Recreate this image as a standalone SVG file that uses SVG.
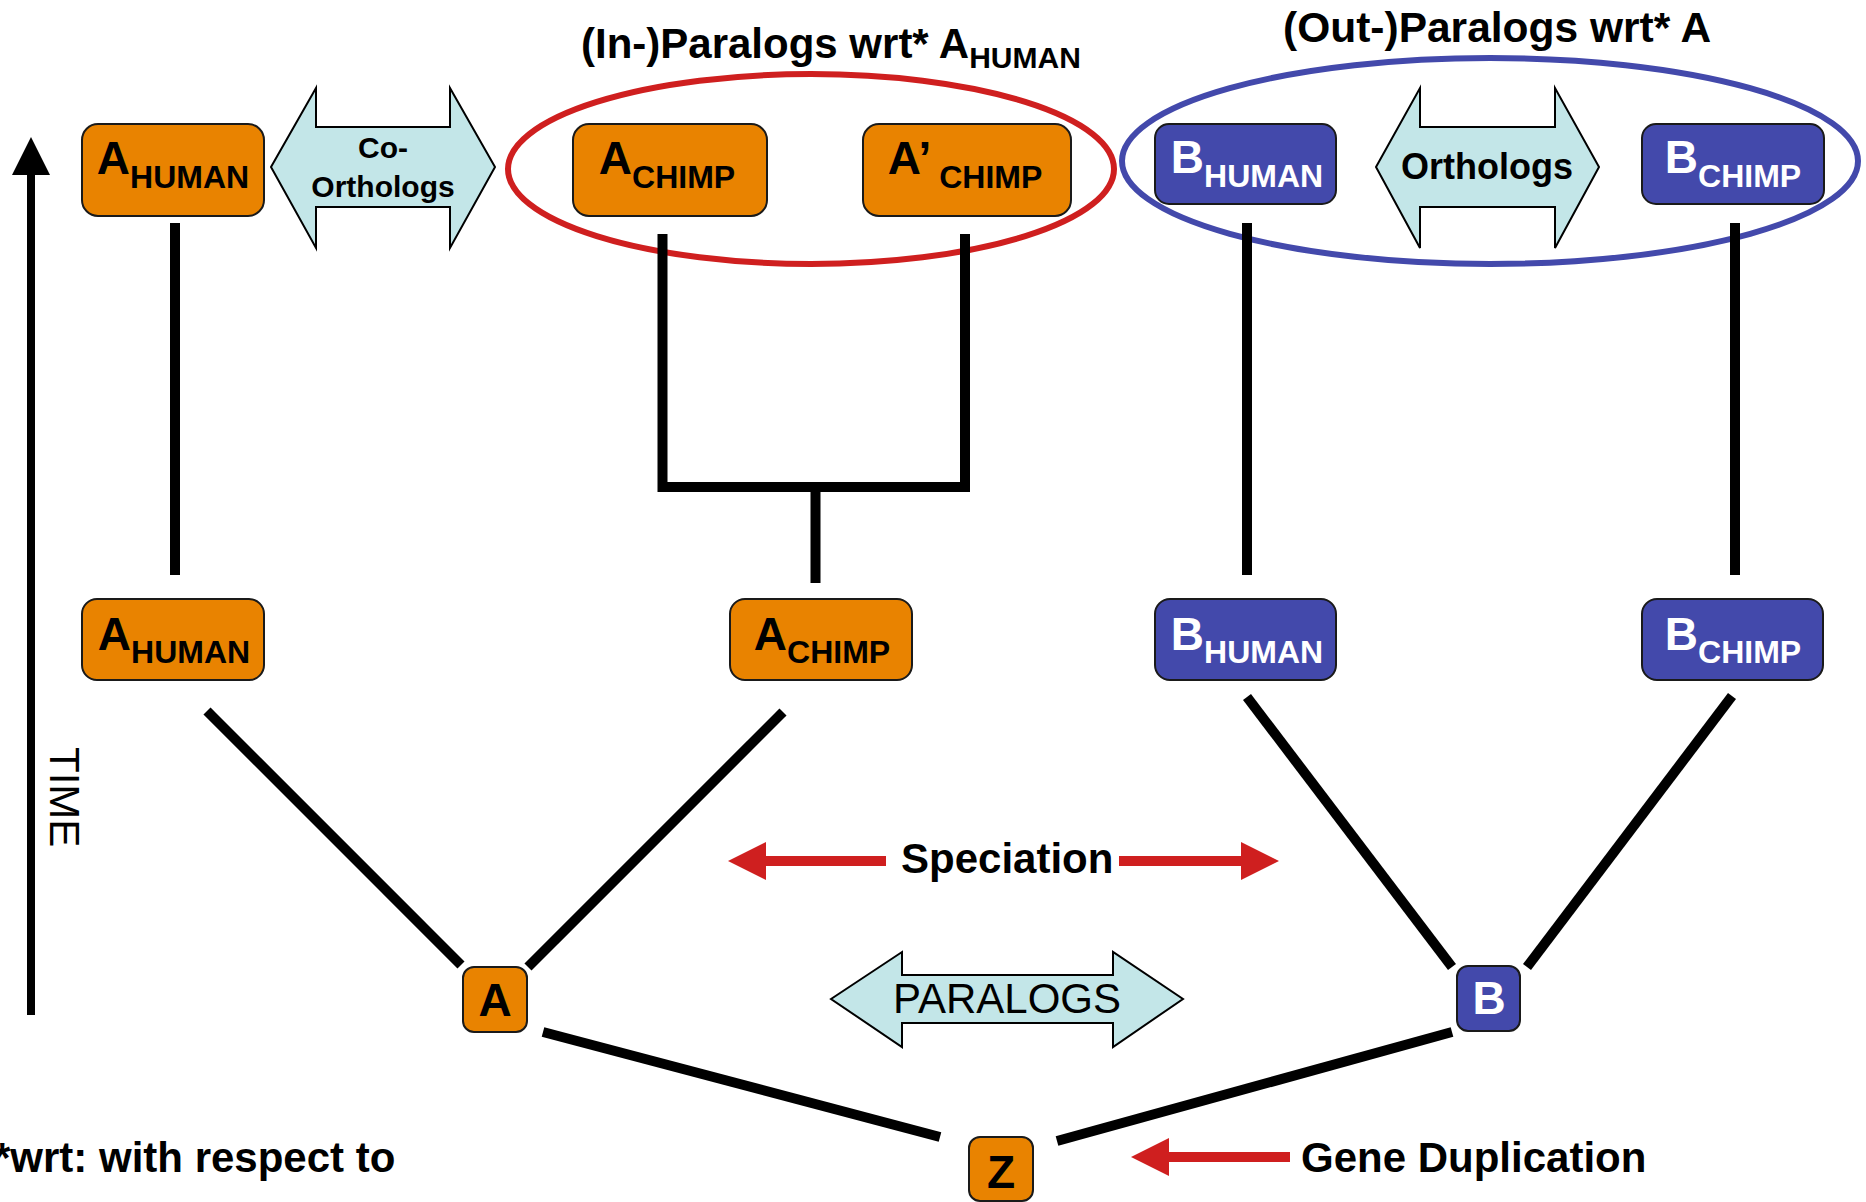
<svg xmlns="http://www.w3.org/2000/svg" width="1866" height="1202" viewBox="0 0 1866 1202">
  <style>
    .lbl { font-family: "Liberation Sans", Arial, sans-serif; font-weight: bold; }
    .orange rect { fill: #E98300; stroke: #1a1a1a; stroke-width: 2; }
    .blue rect { fill: #4349AB; stroke: #1a1a1a; stroke-width: 2; }
    .orange text { fill: #000; }
    .blue text { fill: #fff; }
    .big { font-size: 46px; }
    .sub { font-size: 32px; }
    .edge { stroke: #000; stroke-width: 10; fill: none; stroke-linecap: butt; }
    .dbl { fill: #C3E6E8; stroke: #000; stroke-width: 2; }
    .red { fill: #CF1F1F; }
  </style>

  <!-- time axis -->
  <g id="time-axis">
    <line x1="31" y1="170" x2="31" y2="1015" stroke="#000" stroke-width="8"/>
    <polygon points="31,137 12,175 50,175" fill="#000"/>
    <text transform="translate(50,747) rotate(90)" font-family="Liberation Sans, Arial, sans-serif" font-size="42">TIME</text>
  </g>

  <!-- group outlines -->
  <g id="in-paralogs">
    <ellipse cx="811" cy="169" rx="303" ry="95" fill="none" stroke="#CF1F1F" stroke-width="6"/>
    <text class="lbl" x="581" y="58" font-size="42">(In-)Paralogs wrt* A<tspan font-size="30" dy="10">HUMAN</tspan></text>
  </g>
  <g id="out-paralogs">
    <ellipse cx="1490" cy="161" rx="368" ry="103" fill="none" stroke="#4349AB" stroke-width="6"/>
    <text class="lbl" x="1283" y="42" font-size="42.5">(Out-)Paralogs wrt* A</text>
  </g>

  <!-- connectors -->
  <g id="connectors">
    <line class="edge" x1="175" y1="223" x2="175" y2="575"/>
    <path class="edge" d="M662.5,234 V487 H965 V234" stroke-linejoin="miter"/>
    <line class="edge" x1="815.5" y1="487" x2="815.5" y2="583"/>
    <line class="edge" x1="1247" y1="223" x2="1247" y2="575"/>
    <line class="edge" x1="1735" y1="223" x2="1735" y2="575"/>
    <line class="edge" x1="207" y1="711" x2="461" y2="965"/>
    <line class="edge" x1="783" y1="712" x2="528" y2="967"/>
    <line class="edge" x1="1247" y1="697" x2="1452" y2="967"/>
    <line class="edge" x1="1732" y1="696" x2="1527" y2="967"/>
    <line class="edge" x1="543" y1="1032" x2="940" y2="1137"/>
    <line class="edge" x1="1057" y1="1141" x2="1452" y2="1032"/>
  </g>

  <!-- relation arrows -->
  <g id="co-orthologs">
    <polygon class="dbl" points="271,167 316,88 316,127 450,127 450,88 495,167 450,248 450,207 316,207 316,248"/>
    <text class="lbl" x="383" y="158" font-size="30" text-anchor="middle">Co-</text>
    <text class="lbl" x="383" y="197" font-size="30" text-anchor="middle">Orthologs</text>
  </g>
  <g id="orthologs">
    <polygon class="dbl" points="1376,167 1420,88 1420,127 1555,127 1555,88 1599,167 1555,248 1555,207 1420,207 1420,248"/>
    <text class="lbl" x="1487" y="179" font-size="36" text-anchor="middle">Orthologs</text>
  </g>
  <g id="paralogs">
    <polygon class="dbl" points="831,999 902,952 902,975 1113,975 1113,952 1183,999 1113,1047 1113,1023 902,1023 902,1047"/>
    <text x="1007" y="1013" font-family="Liberation Sans, Arial, sans-serif" font-size="42" text-anchor="middle">PARALOGS</text>
  </g>
  <g id="speciation">
    <rect class="red" x="760" y="856" width="126" height="10"/>
    <polygon class="red" points="728,861 766,842 766,880"/>
    <text class="lbl" x="901" y="873" font-size="42">Speciation</text>
    <rect class="red" x="1119" y="856" width="126" height="10"/>
    <polygon class="red" points="1279,861 1241,842 1241,880"/>
  </g>
  <g id="gene-duplication">
    <rect class="red" x="1165" y="1152" width="125" height="10"/>
    <polygon class="red" points="1131,1157 1169,1138 1169,1176"/>
    <text class="lbl" x="1301" y="1172" font-size="42">Gene Duplication</text>
  </g>
  <g id="footnote">
    <text class="lbl" x="-6" y="1172" font-size="42">*wrt: with respect to</text>
  </g>

  <!-- gene nodes: present day -->
  <g id="a-human-top" class="orange">
    <rect x="82" y="124" width="182" height="92" rx="16"/>
    <text class="lbl" x="173" y="174" text-anchor="middle"><tspan class="big">A</tspan><tspan class="sub" dy="14">HUMAN</tspan></text>
  </g>
  <g id="a-chimp-top" class="orange">
    <rect x="573" y="124" width="194" height="92" rx="16"/>
    <text class="lbl" x="667" y="174" text-anchor="middle"><tspan class="big">A</tspan><tspan class="sub" dy="14">CHIMP</tspan></text>
  </g>
  <g id="a-prime-chimp-top" class="orange">
    <rect x="863" y="124" width="208" height="92" rx="16"/>
    <text class="lbl" x="965" y="174" text-anchor="middle"><tspan class="big">A’</tspan><tspan class="sub" dy="14" dx="8">CHIMP</tspan></text>
  </g>
  <g id="b-human-top" class="blue">
    <rect x="1155" y="124" width="181" height="80" rx="14"/>
    <text class="lbl" x="1247" y="173" text-anchor="middle"><tspan class="big">B</tspan><tspan class="sub" dy="14">HUMAN</tspan></text>
  </g>
  <g id="b-chimp-top" class="blue">
    <rect x="1642" y="124" width="182" height="80" rx="14"/>
    <text class="lbl" x="1733" y="173" text-anchor="middle"><tspan class="big">B</tspan><tspan class="sub" dy="14">CHIMP</tspan></text>
  </g>

  <!-- gene nodes: after speciation -->
  <g id="a-human-mid" class="orange">
    <rect x="82" y="599" width="182" height="81" rx="15"/>
    <text class="lbl" x="174" y="650" text-anchor="middle"><tspan class="big">A</tspan><tspan class="sub" dy="13">HUMAN</tspan></text>
  </g>
  <g id="a-chimp-mid" class="orange">
    <rect x="730" y="599" width="182" height="81" rx="15"/>
    <text class="lbl" x="822" y="650" text-anchor="middle"><tspan class="big">A</tspan><tspan class="sub" dy="13">CHIMP</tspan></text>
  </g>
  <g id="b-human-mid" class="blue">
    <rect x="1155" y="599" width="181" height="81" rx="15"/>
    <text class="lbl" x="1247" y="650" text-anchor="middle"><tspan class="big">B</tspan><tspan class="sub" dy="13">HUMAN</tspan></text>
  </g>
  <g id="b-chimp-mid" class="blue">
    <rect x="1642" y="599" width="181" height="81" rx="15"/>
    <text class="lbl" x="1733" y="650" text-anchor="middle"><tspan class="big">B</tspan><tspan class="sub" dy="13">CHIMP</tspan></text>
  </g>

  <!-- ancestral nodes -->
  <g id="a-anc" class="orange">
    <rect x="463" y="967" width="64" height="65" rx="11"/>
    <text class="lbl big" x="495" y="1016" text-anchor="middle">A</text>
  </g>
  <g id="b-anc" class="blue">
    <rect x="1457" y="966" width="63" height="65" rx="11"/>
    <text class="lbl big" x="1489" y="1014" text-anchor="middle">B</text>
  </g>
  <g id="z-anc" class="orange">
    <rect x="969" y="1137" width="64" height="64" rx="11"/>
    <text class="lbl big" x="1001" y="1188" text-anchor="middle">Z</text>
  </g>
</svg>
